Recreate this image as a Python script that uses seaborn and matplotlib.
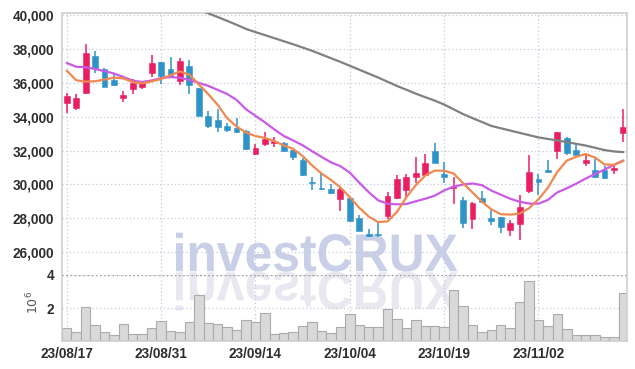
import numpy as np
import pandas as pd
import matplotlib
matplotlib.use("Agg")
import matplotlib.pyplot as plt
import seaborn as sns
from matplotlib.textpath import TextPath
from matplotlib.patches import PathPatch
from matplotlib.font_manager import FontProperties
from matplotlib.transforms import Affine2D, IdentityTransform
from matplotlib.ticker import FuncFormatter

# trading days (yy/mm/dd)
dates = ["23/08/17", "23/08/18", "23/08/21", "23/08/22", "23/08/23", "23/08/24", "23/08/25", "23/08/28", "23/08/29", "23/08/30",
         "23/08/31", "23/09/01", "23/09/04", "23/09/05", "23/09/06", "23/09/07", "23/09/08", "23/09/11", "23/09/12", "23/09/13",
         "23/09/14", "23/09/15", "23/09/18", "23/09/19", "23/09/20", "23/09/21", "23/09/22", "23/09/25", "23/09/26", "23/09/27",
         "23/10/04", "23/10/05", "23/10/06", "23/10/10", "23/10/11", "23/10/12", "23/10/13", "23/10/16", "23/10/17", "23/10/18",
         "23/10/19", "23/10/20", "23/10/23", "23/10/24", "23/10/25", "23/10/26", "23/10/27", "23/10/30", "23/10/31", "23/11/01",
         "23/11/02", "23/11/03", "23/11/06", "23/11/07", "23/11/08", "23/11/09", "23/11/10", "23/11/13", "23/11/14", "23/11/15"]

opens = [34800, 34500, 35420, 37600, 36800, 36140, 35100, 35620, 35760, 36600,
         37220, 36820, 36085, 37010, 35690, 34050, 33810, 33460, 33340, 33160,
         31800, 32410, 32470, 32420, 32010, 31470, 30140, 29820, 29750, 29140,
         29200, 28000, 27010, 27060, 28138, 29222, 29675, 30463, 30562, 32000,
         30621, 29794, 29084, 27942, 29183, 28040, 28060, 27292, 27682, 29632,
         30315, 30840, 31972, 32752, 32011, 31270, 30880, 30841, 30880, 33044]

closes = [35200, 35120, 37760, 36900, 35760, 35860, 35300, 36000, 35960, 37160,
          36420, 36360, 37310, 35850, 34050, 33480, 33420, 33220, 33100, 32100,
          32160, 32690, 32570, 31980, 31620, 30570, 30080, 29720, 29490, 29750,
          27840, 27260, 26980, 27000, 29314, 30306, 30424, 30700, 31290, 31290,
          30463, 29912, 27705, 28887, 28986, 27824, 27508, 27721, 28657, 30724,
          30159, 30724, 33122, 31855, 31720, 31465, 30451, 30393, 30978, 33376]

highs = [35420, 35360, 38300, 37860, 36900, 36560, 35520, 36220, 36120, 37620,
         37220, 37500, 37470, 37370, 35690, 34350, 34450, 33620, 33950, 33220,
         32390, 33080, 32790, 32520, 32010, 31550, 30430, 30630, 30040, 29840,
         29200, 28220, 27400, 27700, 29530, 30560, 30620, 31606, 31783, 32433,
         31350, 30424, 29281, 28986, 29636, 28493, 28060, 27916, 29378, 31757,
         30607, 31465, 33122, 32800, 32430, 31740, 31487, 31110, 31150, 34480]

lows = [34240, 34420, 35360, 36600, 35760, 35820, 34860, 35360, 35620, 36360,
        35920, 36300, 35890, 35350, 34050, 33360, 33120, 33080, 33060, 32040,
        31740, 32290, 32230, 31920, 31450, 30490, 29690, 29690, 29450, 28410,
        27840, 27260, 26900, 26900, 27942, 29140, 29222, 30070, 30523, 31290,
        30110, 28850, 27410, 27350, 28887, 27587, 27114, 26941, 26746, 29515,
        29378, 30685, 31487, 31720, 31720, 31110, 30412, 30306, 30620, 32525]

volumes_m = [0.80, 0.52, 2.04, 0.99, 0.56, 0.37, 1.05, 0.43, 0.43, 0.80,
             1.24, 0.62, 0.56, 1.18, 2.80, 1.11, 1.05, 0.87, 0.68, 1.30,
             1.18, 1.67, 0.43, 0.49, 0.56, 0.93, 1.18, 0.62, 0.49, 0.87,
             1.61, 0.99, 0.87, 0.87, 1.92, 1.36, 0.80, 1.30, 0.93, 0.93,
             0.87, 3.09, 2.10, 0.99, 0.56, 0.68, 0.99, 0.80, 2.35, 3.65,
             1.30, 0.93, 1.61, 0.74, 0.37, 0.37, 0.37, 0.25, 0.25, 2.91]

ma5 = [36720, 36150, 36067, 36093, 36190, 36305, 36260, 36045, 35965, 36082,
       36222, 36450, 36670, 36480, 35900, 35330, 34700, 33920, 33420, 33060,
       32860, 32750, 32560, 32305, 32100, 31680, 31130, 30650, 30270, 29830,
       29250, 28630, 28110, 27780, 27820, 28380, 29250, 29960, 30530, 30818,
       30812, 30650, 30085, 29530, 28990, 28535, 28245, 28225, 28280, 28600,
       29130, 29810, 30750, 31410, 31635, 31795, 31590, 31180, 31160, 31390]

ma20 = [37170, 36947, 36917, 36815, 36690, 36549, 36342, 36124, 36049, 36139,
        36272, 36341, 36292, 36175, 35993, 35820, 35580, 35340, 34990, 34440,
        34050, 33670, 33250, 32865, 32600, 32315, 31965, 31630, 31310, 31080,
        30700, 30113, 29550, 29070, 28860, 28830, 28847, 29010, 29160, 29340,
        29650, 29870, 30000, 30060, 29960, 29640, 29400, 29160, 28980, 28875,
        28870, 29090, 29535, 29775, 30050, 30350, 30620, 30880, 31160, 31420]

ma60 = [np.nan] * 12 + [
        40766, 40545, 40322, 40100, 39880, 39656, 39425, 39177,
        38992, 38815, 38634, 38454, 38273, 38084, 37889, 37670, 37454, 37235,
        37005, 36775, 36542, 36312, 36064, 35814, 35590, 35360, 35150, 34950,
        34716, 34438, 34156, 33918, 33688, 33457, 33317, 33183, 33047, 32912,
        32777, 32688, 32598, 32504, 32398, 32297, 32168, 32028, 31950, 31910]

price_ticks = [26000, 28000, 30000, 32000, 34000, 36000, 38000, 40000]

RED = "#e91e63"
BLUE = "#2e93c9"
ORANGE = "#f0894f"
PURPLE = "#c95ae6"
GRAY = "#808080"
GRID = "#c5c9dd"

sns.set_theme(style="white")
plt.rcParams['font.family'] = ['Liberation Sans', 'DejaVu Sans']

df = pd.DataFrame({"date": dates, "open": opens, "high": highs, "low": lows,
                   "close": closes, "volume": np.array(volumes_m) * 1e6,
                   "ma5": ma5, "ma20": ma20, "ma60": ma60})
df["idx"] = np.arange(len(df))

W, H = 635, 369
fig = plt.figure(figsize=(W / 100, H / 100), dpi=100)
fig.patch.set_facecolor("white")
left, right = 62.3, 626.7
ax = fig.add_axes([left / W, 1 - 275 / H, (right - left) / W, (275 - 12.7) / H])
axv = fig.add_axes([left / W, 1 - 341 / H, (right - left) / W, (341 - 275) / H])
for a in (ax, axv):
    a.set_facecolor("none")

# watermark with mirror reflection
fp = FontProperties(family="Liberation Sans", weight="bold")
tp = TextPath((0, 0), "investCRUX", size=50, prop=fp)
ext = tp.get_extents()
sx = (457.5 - 176) / ext.width
sy = 39 / ext.height
base_y = H - 271.7
main_tr = Affine2D().translate(-ext.x0, -ext.y0).scale(sx, sy).translate(176, base_y)
refl_tr = Affine2D().translate(-ext.x0, -ext.y0).scale(sx, -sy).translate(176, base_y)
fig.add_artist(PathPatch(main_tr.transform_path(tp), facecolor="#c9cfe7", edgecolor="none",
                         transform=IdentityTransform(), zorder=-1))
fig.add_artist(PathPatch(refl_tr.transform_path(tp), facecolor="#e8e8f0", edgecolor="none",
                         transform=IdentityTransform(), zorder=-1))

# candles
up = df["close"] >= df["open"]
col = np.where(up, RED, BLUE)
ax.vlines(df["idx"], df["low"], df["high"], colors=col, lw=1.1, zorder=2)
body_lo = np.minimum(df["open"], df["close"])
body_h = np.maximum((df["close"] - df["open"]).abs(), 70)
ax.bar(df["idx"], body_h, bottom=body_lo, width=0.62, color=col, edgecolor=col, lw=0.4, zorder=2.5)

# moving averages
sns.lineplot(data=df, x="idx", y="ma60", color=GRAY, lw=1.6, ax=ax, zorder=3)
sns.lineplot(data=df, x="idx", y="ma20", color=PURPLE, lw=1.6, ax=ax, zorder=3)
sns.lineplot(data=df, x="idx", y="ma5", color=ORANGE, lw=1.6, ax=ax, zorder=3)

# volume
sns.barplot(data=df, x="idx", y="volume", color="#d9d9d9", edgecolor="#ababab", linewidth=0.8,
            width=1.0, saturation=1, ax=axv, zorder=2)

ticks = df["idx"].values[::10]
for a in (ax, axv):
    a.set_xlim(-0.47, 59.35)
    a.set_xlabel("")
    a.set_ylabel("")
    a.set_xticks(ticks)
    a.grid(True, ls=(0, (1, 2)), color=GRID, lw=0.9, zorder=0)
    a.tick_params(length=0, labelsize=9.8, labelcolor="#2e2e2e", pad=6)
    for s in ("left", "right", "top", "bottom"):
        a.spines[s].set_color("#cfcfcf")
        a.spines[s].set_linewidth(1.2)

ax.set_ylim(24660, 40136)
ax.set_yticks(price_ticks)
ax.yaxis.set_major_formatter(FuncFormatter(lambda v, p: f"{v:,.0f}"))
ax.set_xticklabels([])
ax.spines["bottom"].set_visible(False)

axv.set_ylim(0, 4e6)
axv.set_yticks([2e6, 4e6])
axv.yaxis.set_major_formatter(FuncFormatter(lambda v, p: f"{v / 1e6:.0f}"))
axv.set_xticklabels([dates[i] for i in ticks])
axv.tick_params(axis="x", pad=4)
axv.spines["top"].set_visible(False)
axv.axhline(4e6, color="#9a9a9a", ls=(0, (1, 2)), lw=1.0, zorder=1)

for lbl in ax.get_yticklabels() + axv.get_yticklabels() + axv.get_xticklabels():
    lbl.set_fontweight("bold")

fig.text(33 / W, 1 - 302 / H, r"$10^6$", rotation=90, ha="center", va="center",
         fontsize=9, color="#555555")

fig.savefig("out.png", dpi=100)
